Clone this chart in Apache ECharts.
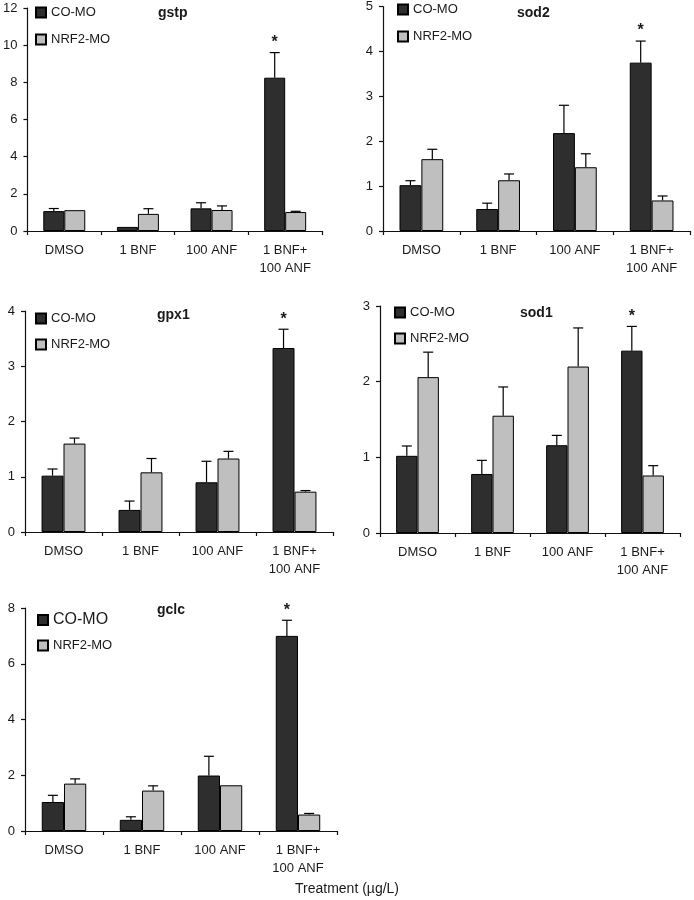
<!DOCTYPE html>
<html>
<head>
<meta charset="utf-8">
<script src="https://cdn.jsdelivr.net/npm/echarts@6/dist/echarts.min.js"></script>
<style>
html,body{margin:0;padding:0;background:#fff;}
#chart{width:694px;height:900px;}
</style>
</head>
<body>
<div id="chart"></div>
<script>
// ---- data ----
var categories = ['DMSO', '1 BNF', '100 ANF', '1 BNF+\n100 ANF'];
var seriesNames = ['CO-MO', 'NRF2-MO'];
var panelTitles = ['gstp', 'sod2', 'gpx1', 'sod1', 'gclc'];
var yMax = [12, 5, 4, 3, 8];
var yInterval = [2, 1, 1, 1, 2];

var gstpCO = [1.07, 0.22, 1.22, 8.25];
var gstpCOsd = [0.14, 0, 0.30, 1.35];
var gstpNRF2 = [1.12, 0.92, 1.13, 1.02];
var gstpNRF2sd = [0, 0.28, 0.22, 0.04];

var sod2CO = [1.02, 0.49, 2.18, 3.75];
var sod2COsd = [0.10, 0.13, 0.62, 0.48];
var sod2NRF2 = [1.60, 1.13, 1.42, 0.68];
var sod2NRF2sd = [0.22, 0.14, 0.30, 0.10];

var gpx1CO = [1.02, 0.40, 0.90, 3.33];
var gpx1COsd = [0.12, 0.16, 0.38, 0.34];
var gpx1NRF2 = [1.60, 1.08, 1.33, 0.73];
var gpx1NRF2sd = [0.10, 0.25, 0.13, 0.02];

var sod1CO = [1.02, 0.78, 1.16, 2.41];
var sod1COsd = [0.13, 0.18, 0.13, 0.32];
var sod1NRF2 = [2.06, 1.55, 2.20, 0.76];
var sod1NRF2sd = [0.33, 0.38, 0.51, 0.13];

var gclcCO = [1.04, 0.40, 1.99, 7.00];
var gclcCOsd = [0.24, 0.11, 0.69, 0.56];
var gclcNRF2 = [1.70, 1.45, 1.64, 0.59];
var gclcNRF2sd = [0.17, 0.17, 0, 0.04];

// significance marks (*) on CO-MO bars
var significant = [false, false, false, true];

var xTitle = 'Treatment (\u00b5g/L)';

// ---- layout ----
var panels = [
  {co: gstpCO, cosd: gstpCOsd, nr: gstpNRF2, nrsd: gstpNRF2sd,
   grid: {left: 26, top: 8, width: 296, height: 223},
   legend: {left: 35, top: 6, gap: 14}, title: {left: 158, top: 6}, coFont: 13},
  {co: sod2CO, cosd: sod2COsd, nr: sod2NRF2, nrsd: sod2NRF2sd,
   grid: {left: 383, top: 6, width: 307, height: 225},
   legend: {left: 397, top: 3, gap: 14}, title: {left: 517, top: 6}, coFont: 13},
  {co: gpx1CO, cosd: gpx1COsd, nr: gpx1NRF2, nrsd: gpx1NRF2sd,
   grid: {left: 25, top: 311, width: 308, height: 221},
   legend: {left: 35, top: 312, gap: 13}, title: {left: 157, top: 308}, coFont: 13},
  {co: sod1CO, cosd: sod1COsd, nr: sod1NRF2, nrsd: sod1NRF2sd,
   grid: {left: 380, top: 306, width: 300, height: 227},
   legend: {left: 394, top: 306, gap: 13}, title: {left: 520, top: 306}, coFont: 13},
  {co: gclcCO, cosd: gclcCOsd, nr: gclcNRF2, nrsd: gclcNRF2sd,
   grid: {left: 25, top: 608, width: 312, height: 223},
   legend: {left: 37, top: 612, gap: 11}, title: {left: 157, top: 603}, coFont: 16}
];

var DARK = '#2e2e2e';
var LIGHT = '#bfbfbf';
var TXT = '#1a1a1a';
var FONT = 'Liberation Sans, Arial, sans-serif';
var CATGAP = 0.43;

var grids = [], xAxes = [], yAxes = [], series = [], legends = [], titles = [];

function errRender(sideSign, values, sds, sig) {
  return function (params, api) {
    var i = api.value(0);
    var v = values[i], sd = sds[i];
    var band = api.size([1, 0])[0];
    var c = api.coord([i, v]);
    var x = c[0] + sideSign * band * (1 - CATGAP) / 4;
    var top = api.coord([i, v + sd]);
    var children = [];
    if (sd > 0) {
      children.push({type: 'line', shape: {x1: x, y1: c[1], x2: x, y2: top[1]},
        style: {stroke: '#000', lineWidth: 1.2}});
      children.push({type: 'line', shape: {x1: x - 5, y1: top[1], x2: x + 5, y2: top[1]},
        style: {stroke: '#000', lineWidth: 1.2}});
    }
    if (sig && sig[i]) {
      children.push({type: 'text', style: {text: '*', x: x, y: top[1] - 10,
        textAlign: 'center', textVerticalAlign: 'middle',
        font: 'bold 16px ' + FONT, fill: TXT}});
    }
    return {type: 'group', children: children};
  };
}

panels.forEach(function (p, k) {
  grids.push(Object.assign({containLabel: false}, p.grid));
  xAxes.push({
    type: 'category', gridIndex: k, data: categories,
    axisLine: {lineStyle: {color: '#111', width: 1.2}},
    axisTick: {show: true, length: 4, inside: false, lineStyle: {color: '#111', width: 1.2}},
    axisLabel: {color: TXT, fontSize: 13, fontFamily: FONT, margin: 10, lineHeight: 18, interval: 0}
  });
  yAxes.push({
    type: 'value', gridIndex: k, min: 0, max: yMax[k], interval: yInterval[k],
    axisLine: {show: true, lineStyle: {color: '#111', width: 1.2}},
    axisTick: {show: true, length: 4, lineStyle: {color: '#111', width: 1.2}},
    splitLine: {show: false},
    axisLabel: {color: TXT, fontSize: 13, fontFamily: FONT, margin: 10}
  });
  series.push({
    name: seriesNames[0], type: 'bar', xAxisIndex: k, yAxisIndex: k, data: p.co,
    barGap: 0, barCategoryGap: (CATGAP * 100) + '%',
    itemStyle: {color: DARK, borderColor: '#000', borderWidth: 1}, silent: true
  });
  series.push({
    name: seriesNames[1], type: 'bar', xAxisIndex: k, yAxisIndex: k, data: p.nr,
    barGap: 0, barCategoryGap: (CATGAP * 100) + '%',
    itemStyle: {color: LIGHT, borderColor: '#000', borderWidth: 1}, silent: true
  });
  series.push({
    type: 'custom', xAxisIndex: k, yAxisIndex: k, silent: true, z: 5,
    data: categories.map(function (c, i) { return [i, p.co[i] + p.cosd[i]]; }),
    renderItem: errRender(-1, p.co, p.cosd, significant)
  });
  series.push({
    type: 'custom', xAxisIndex: k, yAxisIndex: k, silent: true, z: 5,
    data: categories.map(function (c, i) { return [i, p.nr[i] + p.nrsd[i]]; }),
    renderItem: errRender(1, p.nr, p.nrsd, null)
  });
  legends.push({
    left: p.legend.left, top: p.legend.top, orient: 'vertical', padding: 0,
    icon: 'rect', itemWidth: 10, itemHeight: 10, itemGap: p.legend.gap,
    selectedMode: false,
    textStyle: {color: TXT, fontSize: 13, fontFamily: FONT},
    data: [{name: seriesNames[0], textStyle: {fontSize: p.coFont}}, seriesNames[1]]
  });
  titles.push({
    text: panelTitles[k], left: p.title.left, top: p.title.top, padding: 0,
    textStyle: {fontSize: 14, fontWeight: 'bold', color: TXT, fontFamily: FONT}
  });
});

titles.push({
  text: xTitle, left: 295, top: 882, padding: 0,
  textStyle: {fontSize: 14, fontWeight: 'normal', color: TXT, fontFamily: FONT}
});

var chart = echarts.init(document.getElementById('chart'), null, {renderer: 'canvas'});
chart.setOption({
  animation: false,
  backgroundColor: '#fff',
  title: titles,
  legend: legends,
  grid: grids,
  xAxis: xAxes,
  yAxis: yAxes,
  series: series
});
</script>
</body>
</html>
